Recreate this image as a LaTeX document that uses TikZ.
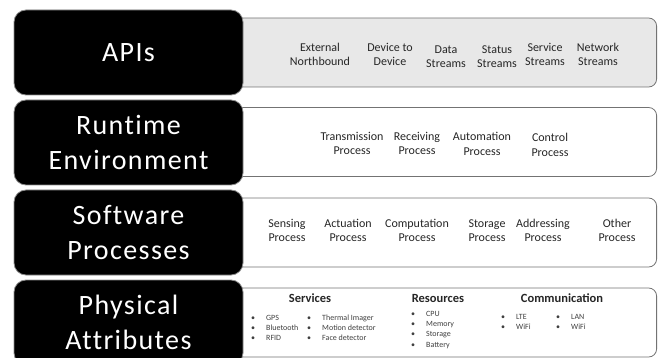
\documentclass[tikz,border=0pt]{standalone}
\usepackage{fontspec}
\setmainfont{Carlito}
\newfontfamily\layerfont[LetterSpace=5, Ligatures=NoCommon]{Carlito}
\usepackage{tikz}
\newcommand{\bul}{\makebox[15pt][l]{\textbullet}}

\begin{document}
\begin{tikzpicture}[
    x=1pt, y=-1pt,
    layer/.style={fill=black, draw=black!45, line width=0.8pt, rounded corners=12pt, minimum width=229pt, minimum height=85pt, text=white, align=center, font=\layerfont\fontsize{28}{35}\selectfont},
    panel/.style={draw=black!55, line width=0.8pt, rounded corners=8pt, minimum width=421pt, minimum height=69pt, fill=white, anchor=east},
    item/.style={align=center, text=black!85, font=\fontsize{12}{14.5}\selectfont},
    head/.style={text=black!85, font=\fontsize{12.5}{15}\selectfont\bfseries},
    list/.style={align=left, anchor=base west, inner sep=0pt, text=black!75, font=\fontsize{8}{10}\selectfont}
  ]
    \useasboundingbox (0,0) rectangle (658,358);
    \clip (0,0) rectangle (658,358);
    % panels behind the layer boxes
    \node[panel, fill=black!9] (p1) at (657,52.5) {};
    \node[panel] (p2) at (657,142) {};
    \node[panel] (p3) at (657,232.5) {};
    \node[panel] (p4) at (657,322.5) {};
    % layers
    \node[layer] (apis) at (128.5,52.5) {APIs};
    \node[layer] (rte) at (128.5,142.5) {Runtime\\Environment};
    \node[layer] (swp) at (128.5,232.5) {Software\\Processes};
    \node[layer] (phy) at (128.5,322.5) {Physical\\Attributes};
    % APIs
    \node[item] (ext) at (320,54.5) {External\\Northbound};
    \node[item] (d2d) at (390,54.5) {Device to\\Device};
    \node[item] (data) at (446,56.5) {Data\\Streams};
    \node[item] (stat) at (497,56.5) {Status\\Streams};
    \node[item] (serv) at (545,54.5) {Service\\Streams};
    \node[item] (net) at (598,54.5) {Network\\Streams};
    % runtime environment
    \node[item] (trans) at (352,143.5) {Transmission\\Process};
    \node[item] (recv) at (417,143.5) {Receiving\\Process};
    \node[item] (auto) at (482,144) {Automation\\Process};
    \node[item] (ctrl) at (550,145) {Control\\Process};
    % software processes
    \node[item] (sens) at (287,230.5) {Sensing\\Process};
    \node[item] (act) at (348,230.5) {Actuation\\Process};
    \node[item] (comp) at (417,230.5) {Computation\\Process};
    \node[item] (stor) at (487,230.5) {Storage\\Process};
    \node[item] (addr) at (543,230.5) {Addressing\\Process};
    \node[item] (oth) at (617,230.5) {Other\\Process};
    % physical attributes
    \node[head] (svc) at (310,298) {Services};
    \node[head] (res) at (438,298) {Resources};
    \node[head] (com) at (562,298) {Communication};
    \node[list] (svcA) at (251,340) {\bul GPS\\\bul Bluetooth\\\bul RFID};
    \node[list] (svcB) at (307,340) {\bul Thermal Imager\\\bul Motion detector\\\bul Face detector};
    \node[list, font=\fontsize{8}{10.4}\selectfont] (resA) at (411,347.2) {\bul CPU\\\bul Memory\\\bul Storage\\\bul Battery};
    \node[list] (comA) at (501,329) {\bul LTE\\\bul WiFi};
    \node[list] (comB) at (556,329) {\bul LAN\\\bul WiFi};
  \end{tikzpicture}
\end{document}
